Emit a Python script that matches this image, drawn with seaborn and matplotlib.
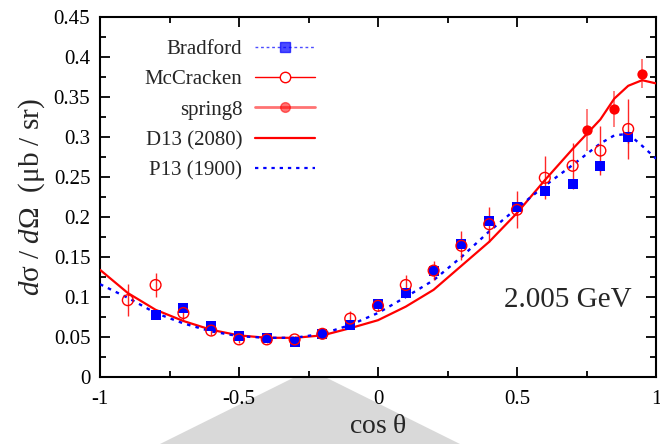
import numpy as np
import pandas as pd
import matplotlib
matplotlib.use("Agg")
import matplotlib.pyplot as plt
from matplotlib.lines import Line2D
from matplotlib.patches import Polygon
from matplotlib.ticker import MultipleLocator
import seaborn as sns

# ---------------- data ----------------
brad_x = [-0.8, -0.7, -0.6, -0.5, -0.4, -0.3, -0.2, -0.1, 0.0, 0.1, 0.2, 0.3, 0.4, 0.5, 0.6, 0.7, 0.8, 0.9]
brad_y = [0.078, 0.086, 0.064, 0.051, 0.049, 0.044, 0.054, 0.065, 0.091, 0.105, 0.133, 0.166, 0.195, 0.213, 0.232, 0.241, 0.264, 0.300]
brad_e = [0.004, 0.004, 0.004, 0.003, 0.003, 0.003, 0.003, 0.003, 0.004, 0.004, 0.004, 0.005, 0.005, 0.005, 0.005, 0.005, 0.006, 0.007]

mcc_x = [-0.9, -0.8, -0.7, -0.6, -0.5, -0.4, -0.3, -0.2, -0.1, 0.0, 0.1, 0.2, 0.3, 0.4, 0.5, 0.6, 0.7, 0.8, 0.9]
mcc_y = [0.096, 0.115, 0.080, 0.058, 0.047, 0.047, 0.047, 0.054, 0.073, 0.089, 0.115, 0.133, 0.164, 0.191, 0.209, 0.249, 0.264, 0.283, 0.310]
mcc_e = [0.020, 0.015, 0.010, 0.005, 0.004, 0.004, 0.004, 0.004, 0.009, 0.006, 0.013, 0.012, 0.018, 0.022, 0.023, 0.027, 0.029, 0.031, 0.037]

sp8_x = [0.75, 0.85, 0.95]
sp8_y = [0.309, 0.335, 0.379]
sp8_e = [0.026, 0.022, 0.018]

d13_x = [-1.0, -0.9, -0.8, -0.7, -0.6, -0.5, -0.4, -0.3, -0.2, -0.1, 0.0, 0.1, 0.2, 0.3, 0.4, 0.5, 0.6, 0.7, 0.8, 0.85, 0.9, 0.95, 1.0]
d13_y = [0.134, 0.105, 0.084, 0.070, 0.059, 0.052, 0.049, 0.049, 0.052, 0.061, 0.071, 0.088, 0.109, 0.139, 0.169, 0.205, 0.246, 0.285, 0.322, 0.348, 0.364, 0.371, 0.367]

p13_x = [-1.0, -0.9, -0.8, -0.7, -0.6, -0.5, -0.4, -0.3, -0.2, -0.1, 0.0, 0.1, 0.2, 0.3, 0.4, 0.5, 0.6, 0.7, 0.8, 0.85, 0.9, 0.95, 1.0]
p13_y = [0.116, 0.099, 0.080, 0.067, 0.057, 0.051, 0.049, 0.049, 0.054, 0.065, 0.080, 0.100, 0.121, 0.150, 0.182, 0.211, 0.239, 0.265, 0.292, 0.302, 0.304, 0.289, 0.273]

xticks = [-1, -0.5, 0, 0.5, 1]
xtick_labels = ["-1", "-0.5", "0", "0.5", "1"]
yticks = [0, 0.05, 0.1, 0.15, 0.2, 0.25, 0.3, 0.35, 0.4, 0.45]
ytick_labels = ["0", "0.05", "0.1", "0.15", "0.2", "0.25", "0.3", "0.35", "0.4", "0.45"]

# ---------------- style ----------------
sns.set_theme(style="ticks")
plt.rcParams["font.family"] = ["Liberation Serif", "DejaVu Serif"]
plt.rcParams["mathtext.fontset"] = "custom"
plt.rcParams["mathtext.rm"] = "Liberation Serif"
plt.rcParams["mathtext.it"] = "Liberation Serif:italic"

RED = "#ff0000"
BLUE = "#0000ff"

fig = plt.figure(figsize=(6.6, 4.44), dpi=100)
ax = fig.add_axes([100 / 660, 67 / 444, 556 / 660, 360 / 444])
ax.set_facecolor("white")

# decorative grey shape behind the x label
fig.patches.append(Polygon([[160 / 660, 0], [297 / 660, 68 / 444], [323 / 660, 68 / 444], [460 / 660, 0]],
                           closed=True, transform=fig.transFigure, facecolor="#d9d9d9",
                           edgecolor="none", zorder=-5))

d13 = pd.DataFrame({"x": d13_x, "y": d13_y})
p13 = pd.DataFrame({"x": p13_x, "y": p13_y})
sns.lineplot(data=d13, x="x", y="y", ax=ax, color=RED, lw=1.6, sort=False, zorder=3)
sns.lineplot(data=p13, x="x", y="y", ax=ax, color=BLUE, lw=1.7, sort=False, zorder=3,
             linestyle=(0, (1.5, 2.2)))

# error bars
ax.errorbar(brad_x, brad_y, yerr=brad_e, fmt="none", ecolor=BLUE, elinewidth=1.0, capsize=0, zorder=4)
ax.errorbar(mcc_x, mcc_y, yerr=mcc_e, fmt="none", ecolor=RED, elinewidth=1.0, capsize=0, zorder=5, alpha=0.85)
ax.errorbar(sp8_x, sp8_y, yerr=sp8_e, fmt="none", ecolor=RED, elinewidth=1.2, capsize=0, zorder=5, alpha=0.6)

brad = pd.DataFrame({"x": brad_x, "y": brad_y})
mcc = pd.DataFrame({"x": mcc_x, "y": mcc_y})
sp8 = pd.DataFrame({"x": sp8_x, "y": sp8_y})
sns.scatterplot(data=brad, x="x", y="y", ax=ax, marker="s", s=42, color=BLUE, edgecolor=BLUE,
                linewidth=0, zorder=6)
sns.scatterplot(data=mcc, x="x", y="y", ax=ax, marker="o", s=60, facecolor="none", edgecolor=RED,
                linewidth=1.0, zorder=7)
sns.scatterplot(data=sp8, x="x", y="y", ax=ax, marker="o", s=55, color=RED, edgecolor=RED,
                linewidth=0, zorder=7)

# axes
ax.set_xlim(-1, 1)
ax.set_ylim(0, 0.45)
ax.set_xticks(xticks)
ax.set_xticklabels(xtick_labels)
ax.set_yticks(yticks)
ax.set_yticklabels(ytick_labels)
ax.xaxis.set_minor_locator(MultipleLocator(0.25))
ax.yaxis.set_minor_locator(MultipleLocator(0.025))
ax.tick_params(which="both", direction="in", top=True, right=True, width=1.3, colors="black",
               labelsize=15)
ax.tick_params(which="major", length=7)
ax.tick_params(axis="x", which="major", pad=9)
ax.tick_params(axis="y", which="major", pad=7)
ax.tick_params(which="minor", length=4)
for s in ax.spines.values():
    s.set_linewidth(1.5)
    s.set_color("black")

ax.set_xlabel(r"cos $\mathrm{\theta}$", fontsize=20, labelpad=4)
ax.set_ylabel(r"$\mathit{d}\mathrm{\sigma}$ / $\mathit{d}\mathrm{\Omega}$  (μb / sr)", fontsize=21, labelpad=5)

ax.text(0.842, 0.214, "2.005 GeV", transform=ax.transAxes, fontsize=21, ha="center", va="center")

handles = [
    Line2D([], [], color=BLUE, lw=1.0, linestyle=(0, (2, 2)), alpha=0.7, marker="s", ms=6.5,
           markerfacecolor=BLUE, markeredgecolor=BLUE),
    Line2D([], [], color=RED, lw=1.0, marker="o", ms=7.5, markerfacecolor="white", markeredgecolor=RED),
    Line2D([], [], color=RED, lw=2.0, alpha=0.55, marker="o", ms=7, markerfacecolor=RED, markeredgecolor=RED),
    Line2D([], [], color=RED, lw=1.6),
    Line2D([], [], color=BLUE, lw=1.6, linestyle=(0, (1.5, 2.2))),
]
labels = ["Bradford", "McCracken", "spring8", "D13 (2080)", "P13 (1900)"]
leg = ax.legend(handles, labels, loc="upper right", bbox_to_anchor=(0.387, 0.938), frameon=False,
                markerfirst=False, fontsize=15, handlelength=2.9, labelspacing=0.52,
                handletextpad=0.6, borderaxespad=0, borderpad=0)
leg._legend_box.align = "right"

fig.savefig("out.png", dpi=100)
